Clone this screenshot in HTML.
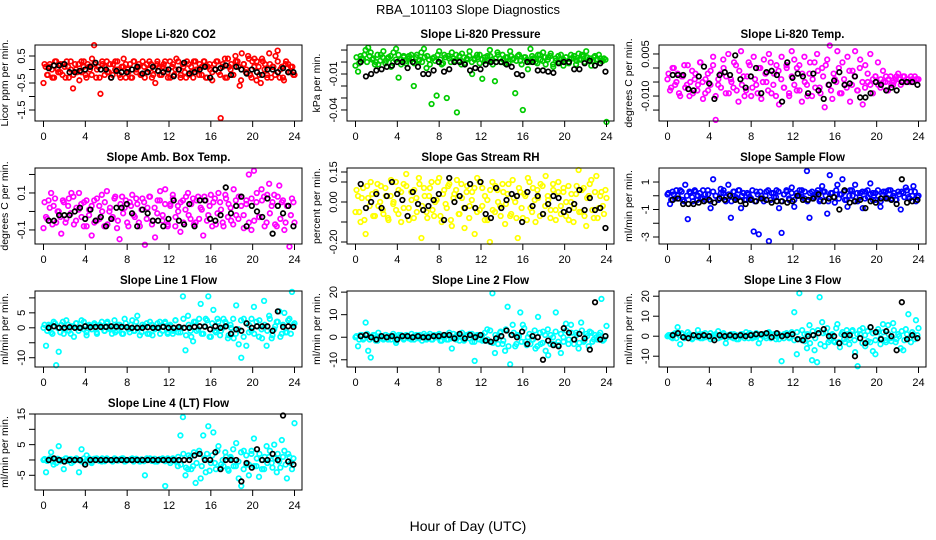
<!DOCTYPE html>
<html><head><meta charset="utf-8"><title>RBA_101103 Slope Diagnostics</title>
<style>
body{margin:0;background:#fff;}
svg{display:block;font-family:"Liberation Sans",sans-serif;}
</style></head>
<body>
<svg id="chart" width="936" height="540" viewBox="0 0 936 540">
<rect width="936" height="540" fill="#fff"/>
<text x="468" y="14" text-anchor="middle" font-size="13">RBA_101103  Slope Diagnostics</text>
<text x="468" y="531" text-anchor="middle" font-size="14">Hour of Day (UTC)</text>
</svg>
<script>
// ---- data (colored = all readings, core = dense readings, black = selected readings) ----
const xTicks = [0,4,8,12,16,20,24];
const co2Color = [-0.5,0.1,-0.2,0.2,0.0,-0.3,0.3,-0.1,0.2,-0.2,0.1,0.3,-0.3,0.0,-0.7,0.2,-0.1,-0.4,0.3,0.1,-0.2,0.2,0.0,0.4,0.9,-0.3,0.1,-0.9,0.2,-0.2,0.3,-0.1,-0.3,0.2,0.0,0.3,-0.2,0.1,0.4,-0.3,0.0,0.2,-0.3,0.3,-0.1,0.1,-0.2,0.3,-0.3,0.2,0.0,0.2,-0.2,-0.5,0.3,0.1,-0.2,0.2,0.0,-0.3,0.3,0.1,-0.2,0.4,0.0,-0.3,0.2,-0.1,0.3,-0.2,0.1,-0.3,0.3,0.0,0.2,-0.2,0.3,-0.3,0.1,0.0,-0.4,0.2,0.3,-0.1,-1.8,0.2,0.4,-0.3,0.1,0.2,-0.2,0.5,0.3,-0.6,0.6,0.2,-0.1,0.5,-0.2,0.3,0.4,-0.4,0.1,-0.5,0.3,0.2,-0.2,0.6,-0.3,0.1,0.5,0.7,-0.3,0.1,-0.4,0.3,0.2,-0.1,0.1,-0.2];
const co2Core = [0.2,-0.2,0.1,-0.3,0.3,0,-0.1,0.2,-0.3,0.1,0.3,-0.2,0,0.2,-0.1,0.3,-0.3,0.1,-0.2,0.2,0,-0.3,0.3,0.1,-0.1,0.2,-0.2,0.3,0,-0.3,0.1,0.2,-0.1,-0.3,0.3,0,0.2,-0.2,0.1,-0.1,0.3,-0.3,0,0.2,-0.2,0.1,0.3,-0.1,-0.3,0.2,0,0.3,-0.2,0.1,-0.3,0.2,-0.1,0.3,0,-0.2,0.1,0.3,-0.3,0.2,-0.1,0,0.3,-0.2,0.1,-0.3,0.4,0,-0.2,0.3,0.1,-0.4,0.2,0,0.4,-0.3,0.1,0.3,-0.2,0.4,0,-0.3,0.2,0.1,-0.2,0.3,0,-0.3,0.2,-0.1,0.1,-0.2];
const co2Black = [0.05,0.15,0.15,0.2,-0.1,-0.1,-0.05,0.0,0.1,0.25,0.0,0.0,-0.3,-0.05,-0.1,-0.1,0.0,0.1,-0.15,-0.1,0.1,-0.05,-0.1,0.0,-0.25,0.0,0.25,-0.15,-0.1,0.0,0.1,-0.3,0.0,0.05,0.15,-0.2,0.1,0.0,-0.15,0.0,-0.1,-0.2,0.0,0.0,-0.1,0.05,-0.1,-0.1];
const presColor = [-0.003,-0.008,0.005,0.002,0.010,0.012,0.008,0.003,0.000,-0.002,0.006,0.009,0.001,0.004,-0.004,0.008,0.011,-0.013,0.002,0.005,-0.001,0.003,0.006,-0.020,0.004,0.001,0.008,0.011,-0.005,0.002,-0.035,0.004,-0.028,0.009,-0.002,0.006,-0.030,0.003,0.008,0.001,-0.042,0.005,0.007,-0.001,0.003,0.009,-0.010,0.002,0.004,0.006,-0.014,0.001,0.005,0.010,0.002,-0.016,0.008,0.003,0.006,-0.001,0.004,0.009,0.002,-0.026,0.005,0.001,-0.040,0.004,-0.006,0.011,0.003,0.000,0.006,0.002,0.008,-0.002,0.004,0.007,-0.004,0.001,0.005,0.002,-0.003,0.004,0.000,0.006,0.003,-0.002,0.007,0.002,0.005,0.009,0.001,-0.003,0.004,0.002,0.006,0.001,0.003,-0.050];
const presCore = [0.004,-0.001,0.003,0.006,0.000,0.005,0.002,-0.002,0.006,0.001,0.004,-0.001,0.003,0.005,0.000,0.002,0.006,-0.002,0.004,0.001,0.005,0.003,-0.001,0.006,0.002,0.000,0.004,0.005,-0.002,0.003,0.001,0.006,0.002,-0.001,0.004,0.005,0.000,0.003,0.006,0.001,-0.002,0.004,0.002,0.005,0.000,0.003,0.006,-0.001,0.002,0.004,0.001,0.005,-0.002,0.003,0.006,0.000,0.002,0.004,-0.001,0.005,0.003,0.001,0.006,-0.002,0.004,0.002,0.000,0.005,0.003,-0.001,0.006,0.001,0.004,0.002,0.005,-0.002,0.003,0.000,0.006,0.002,0.004,-0.001,0.003,0.005,0.001,0.002,0.006,0.000,0.004,0.003,0.001,0.005,0.002,0.003,0.001,0.002];
const presBlack = [0.0,-0.012,-0.010,-0.007,-0.006,-0.004,-0.003,0.0,0.0,-0.005,0.0,-0.004,-0.010,-0.010,-0.007,0.0,-0.008,-0.006,0.0,0.0,-0.002,-0.007,-0.005,-0.006,-0.002,0.0,0.0,0.0,-0.002,-0.004,-0.010,-0.011,0.0,0.0,-0.007,-0.007,-0.008,-0.009,-0.001,0.0,0.0,-0.006,-0.006,-0.001,0.001,-0.003,-0.001,-0.008];
const tempColor = [-0.004,-0.008,0.000,-0.006,-0.002,-0.010,-0.003,-0.007,0.001,-0.005,-0.009,-0.002,-0.006,0.002,-0.011,-0.004,-0.008,-0.001,0.004,-0.0185,-0.006,-0.002,0.003,-0.009,0.005,-0.004,-0.007,0.001,-0.012,0.006,-0.003,-0.008,0.002,-0.010,0.004,-0.006,0.000,-0.011,0.003,-0.005,0.005,-0.009,-0.002,0.001,-0.013,0.004,-0.007,0.000,-0.010,0.006,0.003,-0.008,0.001,-0.012,0.004,-0.006,-0.002,-0.010,0.002,0.005,-0.007,0.000,-0.014,0.003,0.008,-0.011,-0.004,0.006,-0.009,0.002,-0.006,0.004,-0.012,-0.001,0.006,-0.008,0.003,-0.013,0.001,-0.005,0.005,-0.009,-0.003,0.002,-0.007,-0.001,-0.005,-0.008,-0.003,-0.006,-0.004,-0.002,-0.006,-0.003,-0.005,-0.004,-0.003,-0.005,-0.004,-0.004];
const tempCore = [-0.002,-0.007,0.000,-0.005,-0.009,-0.003,0.001,-0.006,-0.010,-0.001,-0.004,-0.008,0.002,-0.005,-0.009,-0.002,-0.006,0.001,-0.010,-0.004,-0.007,0.000,-0.003,-0.009,-0.005,0.002,-0.008,-0.001,-0.006,-0.010,-0.003,0.001,-0.007,-0.004,-0.009,0.000,-0.005,-0.002,-0.008,0.002,-0.006,-0.010,-0.001,-0.004,-0.007,0.001,-0.009,-0.003,-0.006,0.000,-0.008,-0.002,-0.005,-0.010,0.002,-0.004,-0.007,-0.001,-0.009,-0.003,0.001,-0.006,-0.008,-0.002,-0.005,0.000,-0.009,-0.004,-0.007,-0.001,-0.006,-0.003,-0.008,0.000,-0.005,-0.007,-0.002,-0.006,-0.004,-0.003,-0.006,-0.004,-0.005,-0.003,-0.004,-0.006,-0.005,-0.003,-0.004,-0.005,-0.003,-0.004,-0.005,-0.004,-0.003,-0.004];
const tempBlack = [-0.0025,-0.0025,-0.0025,-0.0075,-0.008,-0.003,0.0005,-0.0055,-0.011,-0.0025,-0.0015,-0.0025,0.0045,-0.004,-0.007,-0.003,0.0,-0.009,-0.0015,-0.001,-0.0025,-0.012,0.002,-0.0035,-0.002,-0.003,-0.009,-0.002,-0.008,-0.011,-0.006,-0.0045,-0.0015,-0.006,-0.0055,-0.003,-0.0105,-0.0105,-0.009,-0.005,-0.006,-0.008,-0.007,-0.008,-0.005,-0.005,-0.005,-0.006];
const ambColor = [-0.09,-0.03,0.06,0.1,0.03,-0.06,0.0,-0.12,0.05,-0.04,0.07,0.1,-0.07,0.02,0.1,-0.03,0.05,-0.08,0.01,-0.13,0.06,-0.05,0.03,0.09,-0.08,0.11,0.0,-0.04,0.07,-0.09,-0.15,0.08,0.02,-0.06,0.05,0.09,-0.03,0.04,-0.08,0.07,-0.18,0.02,0.08,-0.05,-0.14,0.06,0.11,-0.02,0.12,-0.07,0.04,0.09,-0.08,0.03,-0.11,0.06,0.01,0.1,-0.04,0.07,-0.06,0.08,0.02,-0.13,0.06,-0.02,0.09,0.05,-0.07,0.1,0.01,-0.08,0.07,0.04,-0.05,0.12,-0.02,0.08,0.03,-0.09,0.06,0.2,-0.1,0.22,0.05,-0.03,0.12,0.08,-0.06,0.15,0.03,0.09,-0.08,0.14,0.05,-0.1,0.03,-0.19,0.07,-0.06];
const ambCore = [0.05,-0.04,0.02,-0.07,0.07,0.0,-0.03,0.06,-0.06,0.03,-0.01,0.08,-0.05,0.01,0.04,-0.08,0.06,-0.02,0.03,-0.06,0.07,-0.04,0.0,0.05,-0.07,0.02,-0.03,0.08,-0.05,0.04,-0.01,0.06,-0.08,0.03,-0.02,0.07,-0.06,0.01,0.05,-0.04,0.08,-0.07,0.02,-0.01,0.06,-0.05,0.04,-0.08,0.03,0.07,-0.03,0.0,0.05,-0.06,0.08,-0.02,0.04,-0.07,0.06,-0.04,0.01,0.08,-0.05,0.03,-0.08,0.07,-0.01,0.05,-0.06,0.09,-0.03,0.02,-0.07,0.06,-0.04,0.08,-0.02,0.04,-0.06,0.07,-0.05,0.1,-0.03,0.06,-0.08,0.09,-0.01,0.05,-0.07,0.08,-0.04,0.06,-0.06,0.03,-0.02,0.05];
const ambBlack = [-0.05,-0.05,-0.02,-0.02,-0.02,0.0,0.02,-0.04,0.01,-0.05,-0.03,-0.08,-0.04,0.02,0.02,0.04,-0.01,-0.08,0.01,-0.01,-0.05,-0.05,-0.08,-0.04,0.06,-0.05,-0.07,0.04,-0.08,0.06,0.06,-0.04,-0.05,-0.02,0.13,-0.01,0.03,0.08,-0.08,0.03,0.0,-0.03,0.07,-0.12,0.03,-0.01,0.03,-0.08];
const rhColor = [-0.05,0.03,-0.1,0.07,-0.16,0.02,0.1,-0.07,0.05,-0.02,0.08,-0.06,0.03,-0.09,0.11,0.0,-0.04,0.06,-0.1,0.09,0.14,-0.03,0.05,-0.08,0.02,0.12,-0.18,0.07,-0.05,0.03,0.1,-0.07,0.01,0.12,-0.1,0.06,-0.03,0.09,-0.12,0.04,0.11,-0.06,0.02,-0.13,0.08,-0.02,0.05,-0.16,0.12,-0.04,0.07,-0.09,0.01,-0.2,0.1,-0.05,0.06,-0.02,0.09,-0.11,0.04,-0.07,0.11,0.0,-0.18,0.05,-0.08,0.03,0.12,-0.03,0.07,-0.1,0.02,0.09,-0.06,0.13,0.01,-0.04,0.06,-0.09,0.1,-0.02,0.05,-0.07,0.08,0.0,-0.1,0.04,0.16,-0.05,0.07,-0.12,0.03,0.11,-0.08,0.13,-0.03,0.05,-0.06,0.02];
const rhCore = [0.06,-0.05,0.02,-0.09,0.08,-0.02,0.04,-0.07,0.09,0.0,-0.04,0.07,-0.08,0.03,-0.01,0.1,-0.06,0.05,-0.03,0.08,-0.09,0.01,0.06,-0.05,0.09,-0.02,0.03,-0.08,0.07,-0.04,0.0,0.1,-0.07,0.04,-0.01,0.08,-0.09,0.02,0.06,-0.06,0.09,-0.03,0.05,-0.08,0.01,0.07,-0.05,0.1,-0.02,0.03,-0.09,0.06,-0.04,0.08,0.0,-0.07,0.05,-0.01,0.09,-0.06,0.02,-0.08,0.07,-0.03,0.04,-0.09,0.1,-0.05,0.01,0.06,-0.07,0.08,-0.02,0.03,-0.08,0.09,-0.04,0.05,-0.06,0.07,0.0,-0.09,0.04,-0.03,0.08,-0.05,0.06,-0.07,0.02,0.09,-0.04,0.05,-0.08,0.03,-0.02,0.06];
const rhBlack = [0.09,-0.03,0.0,0.04,-0.03,0.03,0.1,0.04,0.01,-0.07,0.05,-0.01,-0.04,-0.02,0.01,0.04,-0.09,0.12,0.0,0.03,-0.03,0.09,-0.03,0.1,-0.06,-0.08,0.07,-0.03,0.01,0.04,0.03,-0.1,0.05,-0.02,0.03,-0.06,-0.01,0.03,0.02,-0.05,-0.04,-0.01,0.06,-0.04,0.02,-0.04,-0.03,-0.13];
const sampleColor = [0.1,-0.6,0.3,-0.2,0.0,0.4,-0.3,0.8,-1.7,0.2,-0.4,0.3,0.0,-0.2,0.4,-0.3,0.1,-0.9,1.2,0.0,-0.3,0.5,0.2,-0.4,0.8,-1.6,0.3,-0.1,0.4,-0.9,0.2,-0.3,0.1,-0.2,-2.6,0.3,-2.8,0.0,-0.4,0.3,-3.3,0.2,-0.1,0.4,-0.9,-2.7,0.1,0.3,-0.3,0.6,-0.8,0.2,0.0,0.4,-0.2,1.8,-1.6,0.3,-0.1,0.2,-0.4,0.7,0.3,-1.3,1.5,0.2,-0.5,0.8,0.1,1.2,-0.3,-0.8,0.4,0.0,0.8,-0.4,0.2,-0.9,0.3,-0.1,0.9,0.2,-0.3,0.4,-0.8,0.1,0.3,-0.2,0.4,0.0,-0.3,0.3,-1.0,0.2,0.6,-0.1,0.3,0.7,-0.4,0.0];
const sampleCore = [0.2,-0.3,0.1,0.4,-0.2,0.3,-0.4,0.0,0.3,-0.1,0.4,-0.3,0.2,-0.2,0.1,0.4,-0.4,0.3,0.0,-0.3,0.2,0.4,-0.1,0.1,-0.4,0.3,-0.2,0.4,0.0,-0.3,0.2,-0.1,0.4,-0.4,0.1,0.3,-0.2,0.0,0.4,-0.3,0.2,-0.1,0.3,-0.4,0.1,0.4,-0.2,0.2,-0.3,0.0,0.4,-0.1,0.3,-0.4,0.2,-0.2,0.1,0.4,-0.3,0.3,0.0,-0.4,0.2,-0.1,0.4,-0.2,0.1,0.3,-0.3,0.0,0.4,-0.4,0.2,-0.1,0.3,-0.2,0.4,0.1,-0.3,0.2,0.0,-0.4,0.3,-0.1,0.4,-0.2,0.2,-0.3,0.1,0.3,-0.1,0.4,-0.2,0.0,0.3,-0.1];
const sampleBlack = [-0.3,-0.2,-0.6,-0.6,-0.6,-0.5,-0.4,-0.3,-0.5,-0.2,-0.3,0.0,-0.3,-0.4,-0.6,-0.3,-0.4,-0.2,-0.3,-0.5,-0.4,-0.4,-0.5,-0.4,0.0,-0.3,-0.3,-0.2,0.1,-0.4,-0.2,-0.1,-1.0,0.4,-0.5,-0.4,-0.3,-0.9,-0.4,-0.5,-0.2,-0.2,-0.3,-0.6,1.2,-0.5,-0.4,-0.3];
const line1Color = [0,-6,1,-1.5,2,-12.5,-8,1,-2,2.5,-1,0.5,-3,1.5,0,2.5,-0.5,-2.5,1,0.5,1,-1.5,0.5,2,-1,1.5,0,-2,2.5,-1,1,-2,3,0,-1.5,2.5,-1,4,-2.5,1,0.5,-2,2,-2.5,0,1.5,-2,0.5,2,-1.5,1,-2,2.5,0,-1.5,10.5,-7.5,4,-1,-4.5,2,-0.5,8,-2,3,10.5,-3,6,-1.5,2,-1,3,1.5,-2.5,0,-3.5,7.5,-5.5,-10,3,-6,1,-1,7,2,-3,-0.5,9,-6,4,-3.5,-0.5,2,5.5,-2,5,-1.5,3,12,1.5];
const line1Core = [1,-1,0.5,-2,1.5,0,-1.5,2,-0.5,1,-2,0.5,1.5,-1,0,2,-1.5,0.5,-0.5,1.5,-2,1,0,-1,2,-0.5,0.5,-1.5,1,0,-2,1.5,-0.5,1,-1,2,0,-1.5,0.5,1.5,-2,1,-0.5,0,2,-1,1.5,-2,0.5,-1,2.5,-1.5,0,3,-2.5,1,-3,2,-1,3,-2,0.5,2.5,-3,1.5,-1,3,-2.5,0,2,-3.5,1,3,-2,-0.5,2.5,-3,1.5,-1.5,3,-2,0.5,2.5,-3.5,1,-1,3,-2.5,0.5,2,-3,1,-1.5,2.5,-2,1];
const line1Black = [0,0.5,0,0,0.2,0,0,0.5,0.2,0.3,0.3,0.3,0.5,0.4,0.3,0.2,0,0,0,0.2,0,0,0.3,0,0,0.3,0,0,0.3,0.5,0.4,-0.5,0.5,0,0.5,-2,-0.5,-1,1.5,0,0.5,0.5,0.5,-1,5.5,0.3,0.5,0.3];
const line2Color = [0,-4,1,-1,6.5,-6,-9,1,-1.5,2,0,-1,1,0.5,-1,0.5,-2.5,1,0,-0.5,1,0,-1,0.5,1,-0.5,0,1.5,-1,0.5,-1,1,0,1.5,-1.5,0.5,-1,2,-5,0,1,-1.5,2,-1,0.5,1.5,-2,-10.5,1,-1,1,-1.5,3.5,-2,19.5,-7,0,2,-3,-6,13.5,-12,5.5,-4,1,11,5.5,-2,0,-3,-1,-5,9,-3,2.5,-6,-8,1,-3,11,-2,-7,0,6,-3,5.5,-1,2,-5,6.5,-2,1.5,-4,2,-1,0,1,17,-1,5];
const line2Core = [0.5,-1,1,-0.5,1.5,-1,0,1,-1.5,0.5,-0.5,1,-1,0.5,1.5,-1.5,0,1,-1,0.5,-0.5,1.5,-1,0,1,-1.5,0.5,-0.5,1.5,-1,0,1,-1.5,0.5,1,-1,-0.5,1.5,-1,0.5,0,-1.5,1,-0.5,1.5,-2,0.5,1,-1.5,2,-1,3,-2.5,1,-3,2.5,-1.5,3.5,-4,1,2,-3,0.5,-2,4,-3.5,1.5,-1,3,-4,2,-2.5,1,3.5,-3,0,2.5,-3.5,1.5,-2,3,-1,2,-3,1,-2.5,3,-1.5,0.5,2.5,-2,1,-1,2,-1.5,0.5];
const line2Black = [0.5,1,0,-1,0.5,0,0.5,-1,0.5,0.5,0,0.5,0,0,0.5,0.5,1,1,-0.5,1.5,-0.5,1,0,1,-1.5,-2,-0.5,0.5,3,1,0,2.5,-3,0.5,0,-10,-1.5,-3.5,-4,4,2,-1,1.5,-0.5,-5.5,15.5,-1,0.5];
const line3Color = [0,0.5,-1,1.5,4.5,-4,1,-0.5,2,0,-1,0.5,3,-1,1,-0.5,0,1.5,-1,0.5,2.5,-0.5,1,-3.5,0,1,-1,0.5,-1.5,1,0.5,2,-1,1,-0.5,1.5,-3.5,0.5,1,-1,2,-0.5,1,0,-1.5,-12.5,1,0.5,-1,2,12,-9,21.5,-2,1,-6,5.5,-12,-7,-13,19.5,7,-5,4,-2,1,-3,6,-5.5,2,-3,1,-1,3,-8,-15,1,4,-5,-2.5,4.5,-7.5,-9,2,-4,6,-2,5.5,-1,6.5,-3,1,-6,-7,3.5,11,-3,1,8,4];
const line3Core = [0.5,-0.5,1,-1,0.5,1.5,-1,0,1,-1.5,0.5,-0.5,1,-1,1.5,0,-1.5,0.5,1,-1,0,1.5,-1,0.5,-0.5,1,-1.5,0,1,-1,0.5,1.5,-1,-0.5,1,-1.5,0.5,0,1.5,-1,0.5,-1.5,1,0,-1,1.5,-0.5,1,-2,2,-1.5,3,-2.5,1,-3.5,2.5,-1,3,-4,1.5,2,-3,0.5,-2.5,4,-3,1,-1.5,3,-4,2.5,-2,1,3,-3.5,0.5,2.5,-3,1.5,-2,3.5,-1,2,-3,1,-2.5,3,-1.5,0,2.5,-2,1,-1,2,-1.5,0.5];
const line3Black = [0.5,1.5,-0.5,-1,0.5,0,0.5,0,-2,0.5,0,0.5,0,0.5,0,0.5,1,1,1.5,-0.5,1.5,0,0.5,1,-1.5,-2,0,0.5,1.5,3.5,0,0,-3.5,0.5,0.5,-10,-1,-3.5,4.5,2,-1.5,2.5,0,-7,17,-1.5,0.5,-1];
const line4Color = [0,-4,0,2.5,-1.5,-1,4.5,0,-3,0.5,0,-1,0,0.5,-4,3.5,-1,1.5,0.5,-1,0,0.5,0,-0.5,0,0.5,0,0,0.5,0,0,0.5,-0.5,0,0,0.5,0,0,-0.5,0,-5,0,0.5,0,-0.5,0,0,0.5,-8.5,0,-1,0.5,0,-2,8,14,-5,-3,1,-2,-7.5,2,-6,8,-4,11,-1,9,-3,4.5,-1.5,-2,1,-3.5,0.5,-2,5.5,-6,-8.5,3,-1.5,-5,2,7,-2,-5.5,0,-3,4.5,1,-1,5,-4,-0.5,6.5,3,-6,1,-3,12];
const line4Core = [0.3,-0.3,0.5,-0.5,0.2,0.4,-0.4,0,0.5,-0.3,0.3,-0.5,0.4,0,-0.4,0.5,-0.2,0.3,-0.5,0.4,0,-0.3,0.5,-0.4,0.2,0,-0.5,0.4,-0.2,0.3,0.5,-0.4,0,0.3,-0.5,0.4,-0.1,0.2,-0.4,0.5,0,-0.3,0.4,-0.5,0.3,0,-0.4,0.5,-0.2,0.4,-0.5,1,-1.5,2,-2.5,1.5,-3,2.5,-1,3,-2,0.5,2,-3.5,1.5,-1,3,-2.5,0,2.5,-3,1,3.5,-2,-0.5,2.5,-3,1.5,-1.5,3,-2,0.5,2,-3,1,-1,3,-2.5,0.5,2,-2.5,1,-1.5,2,-1,0.5];
const line4Black = [0,0.5,0,-0.5,0,0,0,-1.5,0,0,0,0,0,0,0,0,0,0,0,0,0,0,0,0,0,0,0,0,1.5,2,0,0,2.5,-3,0,0,0,-7,-1,-2.5,3.5,0,0,2,0,14.5,-0.5,-1.5];

const co2Ticks=[0.5,0,-0.5,-1,-1.5], co2Labels=["0.5","","-0.5","","-1.5"];
const presTicks=[0.01,0,-0.01,-0.02,-0.03,-0.04], presLabels=["","","-0.01","","","-0.04"];
const tempTicks=[0.005,0,-0.005,-0.01,-0.015], tempLabels=["0.005","","","-0.010",""];
const ambTicks=[0.2,0.1,0,-0.1], ambLabels=["","0.1","","-0.1"];
const rhTicks=[0.15,0.1,0,-0.1,-0.2], rhLabels=["0.15","","0.00","","-0.20"];
const sampleTicks=[1,0,-1,-2,-3], sampleLabels=["1","","-1","","-3"];
const line1Ticks=[10,5,0,-5,-10], line1Labels=["","5","0","","-10"];
const line2Ticks=[20,10,0,-10], line2Labels=["20","10","0","-10"];
const line3Ticks=[20,10,0,-10], line3Labels=["20","10","0","-10"];
const line4Ticks=[15,10,5,0,-5], line4Labels=["15","","5","","-5"];

// ---- layout ----
const panels = [
 {name:"co2",title:"Slope Li-820 CO2",ylab:"Licor ppm per min.",col:0,row:0,yTop:0.907,yBot:-1.907,color:"#ff0000",c:co2Color,k:co2Core,b:co2Black,t:co2Ticks,l:co2Labels},
 {name:"pressure",title:"Slope Li-820 Pressure",ylab:"kPa per min.",col:1,row:0,yTop:0.0142,yBot:-0.0492,color:"#00cc00",c:presColor,k:presCore,b:presBlack,t:presTicks,l:presLabels},
 {name:"li820-temp",title:"Slope Li-820 Temp.",ylab:"degrees C per min.",col:2,row:0,yTop:0.0082,yBot:-0.0189,color:"#ff00ff",c:tempColor,k:tempCore,b:tempBlack,t:tempTicks,l:tempLabels},
 {name:"amb-box-temp",title:"Slope Amb. Box Temp.",ylab:"degrees C per min.",col:0,row:1,yTop:0.235,yBot:-0.176,color:"#ff00ff",c:ambColor,k:ambCore,b:ambBlack,t:ambTicks,l:ambLabels},
 {name:"gas-stream-rh",title:"Slope Gas Stream RH",ylab:"percent per min.",col:1,row:1,yTop:0.17,yBot:-0.21,color:"#ffff00",c:rhColor,k:rhCore,b:rhBlack,t:rhTicks,l:rhLabels},
 {name:"sample-flow",title:"Slope Sample Flow",ylab:"ml/min per min.",col:2,row:1,yTop:2.02,yBot:-3.51,color:"#0000ff",c:sampleColor,k:sampleCore,b:sampleBlack,t:sampleTicks,l:sampleLabels},
 {name:"line1-flow",title:"Slope Line 1 Flow",ylab:"ml/min per min.",col:0,row:2,yTop:12.3,yBot:-13.1,color:"#00ffff",c:line1Color,k:line1Core,b:line1Black,t:line1Ticks,l:line1Labels},
 {name:"line2-flow",title:"Slope Line 2 Flow",ylab:"ml/min per min.",col:1,row:2,yTop:20.5,yBot:-13.2,color:"#00ffff",c:line2Color,k:line2Core,b:line2Black,t:line2Ticks,l:line2Labels},
 {name:"line3-flow",title:"Slope Line 3 Flow",ylab:"ml/min per min.",col:2,row:2,yTop:22.6,yBot:-15.4,color:"#00ffff",c:line3Color,k:line3Core,b:line3Black,t:line3Ticks,l:line3Labels},
 {name:"line4-flow",title:"Slope Line 4 (LT) Flow",ylab:"ml/min per min.",col:0,row:3,yTop:15,yBot:-9.8,color:"#00ffff",c:line4Color,k:line4Core,b:line4Black,t:line4Ticks,l:line4Labels}
];
const NS="http://www.w3.org/2000/svg";
const svg=document.getElementById("chart");
function mk(tag,attrs,parent){const e=document.createElementNS(NS,tag);for(const k in attrs)e.setAttribute(k,attrs[k]);(parent||svg).appendChild(e);return e;}

panels.forEach(p=>{
  const L=35+p.col*312, T=45+p.row*123, W=267, H=76;
  const x0=L+8.5, xs=251/24;
  const X=h=>x0+h*xs;
  const Y=v=>T+(p.yTop-v)/(p.yTop-p.yBot)*H;
  const g=mk("g",{});
  
  
  const tt=mk("text",{x:L+W/2,y:T-7,"text-anchor":"middle","font-size":"11.5","font-weight":"bold"},g);
  tt.textContent=p.title;
  
  
  const pts=mk("g",{fill:"none","stroke-width":"1.7"},g);
  
  
  p.k.forEach((v,i)=>{
    const h=0.1+i*23.8/(p.k.length-1);
    const c=mk("circle",{cx:X(h),cy:Y(v),r:2.3,stroke:p.color},pts);
    
    
  });
  p.c.forEach((v,i)=>{
    const h=i*24/(p.c.length-1);
    const c=mk("circle",{cx:X(h),cy:Y(v),r:2.3,stroke:p.color},pts);
    
    
  });
  p.b.forEach((v,i)=>{
    const h=0.5+i*23.4/(p.b.length-1);
    const c=mk("circle",{cx:X(h),cy:Y(v),r:2.3,stroke:"#000"},pts);
    
    
  });
  const box=mk("rect",{x:L,y:T,width:W,height:H,fill:"none",stroke:"#000","stroke-width":"1"},g);
  
  
  const xa=mk("g",{stroke:"#000","stroke-width":"1"},g);
  
  
  mk("line",{x1:X(0),x2:X(24),y1:T+H,y2:T+H},xa);
  xTicks.forEach(h=>{
    mk("line",{x1:X(h),x2:X(h),y1:T+H,y2:T+H+6},xa);
    const tx=mk("text",{x:X(h),y:T+H+19,"text-anchor":"middle","font-size":"11",stroke:"none",fill:"#000"},xa);
    tx.textContent=h;
    
    
  });
  const ya=mk("g",{stroke:"#000","stroke-width":"1"},g);
  
  
  const ys=p.t.map(Y);
  mk("line",{x1:L,x2:L,y1:Math.min(...ys),y2:Math.max(...ys)},ya);
  p.t.forEach((v,i)=>{
    const y=Y(v);
    mk("line",{x1:L-6,x2:L,y1:y,y2:y},ya);
    if(p.l[i]){
      const tx=mk("text",{x:L-10,y:y,"text-anchor":"middle","font-size":"11",stroke:"none",fill:"#000",transform:`rotate(-90 ${L-10} ${y})`},ya);
      tx.textContent=p.l[i];
      
      
    }
  });
  const yl=mk("text",{x:L-27,y:T+H/2,"text-anchor":"middle","font-size":"10.5",transform:`rotate(-90 ${L-27} ${T+H/2})`},g);
  yl.textContent=p.ylab;
  
  
});
</script>
</body></html>
